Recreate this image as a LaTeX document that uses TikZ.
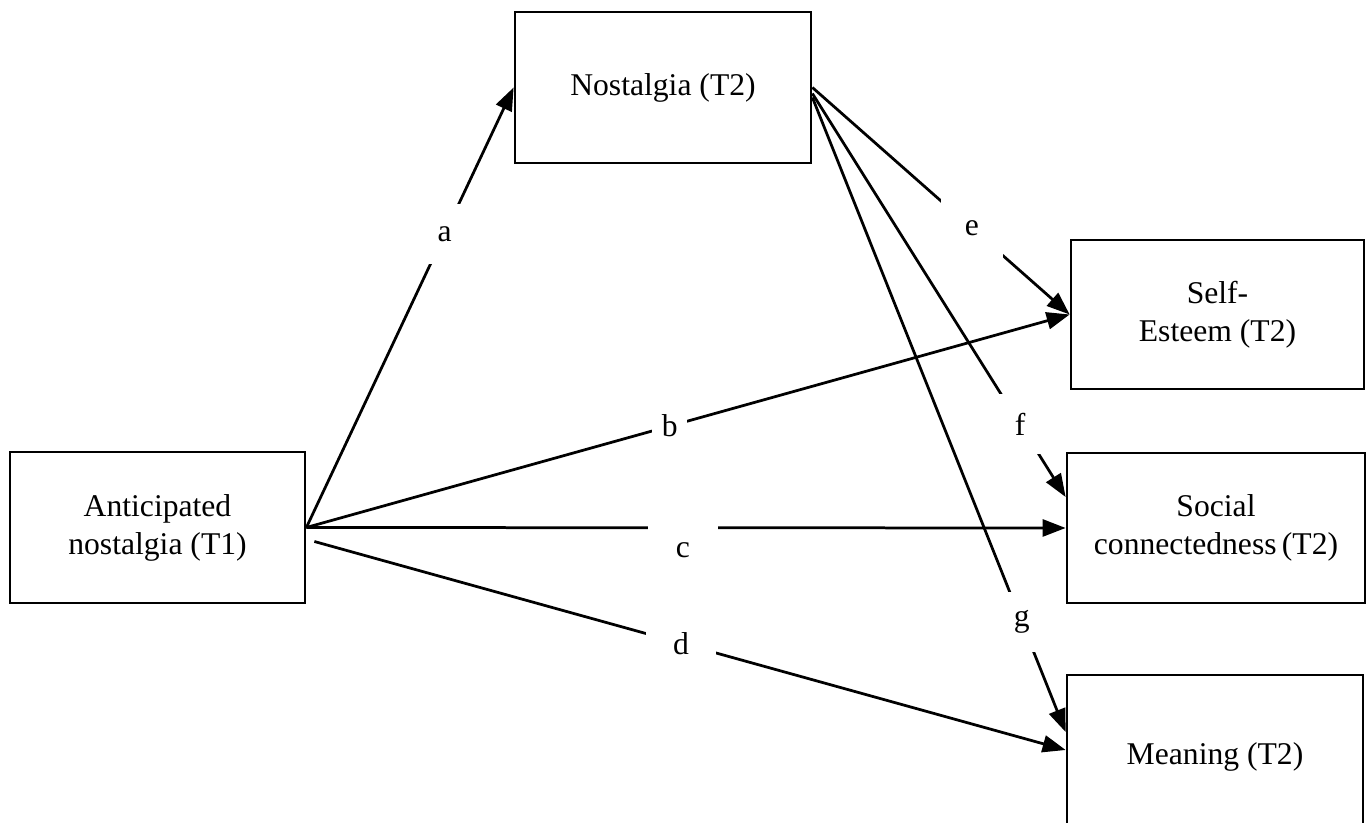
\documentclass[tikz,border=0pt]{standalone}
\usepackage{fontspec}
\setmainfont{Liberation Serif}
\usetikzlibrary{arrows.meta}
\tikzset{
  varbox/.style={draw, line width=0.055cm, align=center, inner sep=0pt,
    font=\fontsize{18}{21.6}\selectfont},
  path/.style={line width=0.055cm, -{Triangle[length=0.46cm,width=0.34cm]}},
  coef/.style={fill=white, inner sep=0pt, minimum width=1.25cm, minimum height=1.2cm,
    font=\fontsize{18}{21.6}\selectfont}
}
\begin{document}
\begin{tikzpicture}
                    \useasboundingbox (0,0) rectangle (27.400000,16.460000);
                    {
                    
                    % Marking variable boxes
                    \node [varbox, minimum width=5.900000cm, minimum height=3.020000cm] (anticip) at (3.150000,5.910000) {Anticipated\\nostalgia (T1)};%
                    \node [varbox, minimum width=5.920000cm, minimum height=3.020000cm] (nost) at (13.260000,14.710000) {Nostalgia (T2)};%
                    \node [varbox, minimum width=5.860000cm, minimum height=2.980000cm] (self) at (24.350000,10.170000) {Self-\\Esteem (T2)};%
                    \node [varbox, minimum width=5.960000cm, minimum height=3.000000cm] (social) at (24.320000,5.900000) {Social\\connectedness\,(T2)};%
                    \node [varbox, minimum width=5.920000cm, minimum height=3.280000cm] (meaning) at (24.300000,1.320000) {Meaning (T2)};%
                    
                    % Drawing path a
                    \draw [path] (anticip.east) -- (nost.west) node [coef, pos=0.667, minimum width=0.9cm] {a};%
                    
                    % Drawing path b
                    \draw [path] (anticip.east) -- (self.west) node [coef, pos=0.476, minimum width=0.7cm, minimum height=0.7cm] {b};%
                    
                    % Drawing path c
                    \draw [path] (anticip.east) -- (social.west) node [coef, pos=0.496, yshift=-0.44cm, minimum width=1.4cm, minimum height=1.4cm] {c};%
                    
                    % Drawing path d
                    \draw [path] ([xshift=0.16cm,yshift=-0.28cm]anticip.east) -- ([yshift=0.14cm]meaning.west) node [coef, pos=0.488, minimum width=1.4cm] {d};%
                    
                    % Drawing path e
                    \draw [path] (nost.east) -- (self.west) node [coef, pos=0.62] {e};%
                    
                    % Drawing path f
                    \draw [path] ([yshift=-0.12cm]nost.east) -- ([yshift=0.62cm]social.west) node [coef, pos=0.82, minimum width=0.9cm] {f};%
                    
                    % Drawing path g
                    \draw [path] ([yshift=-0.20cm]nost.east) -- ([yshift=0.50cm]meaning.west) node [coef, pos=0.827, minimum width=0.8cm] {g};%
                    }
\end{tikzpicture}
\end{document}
